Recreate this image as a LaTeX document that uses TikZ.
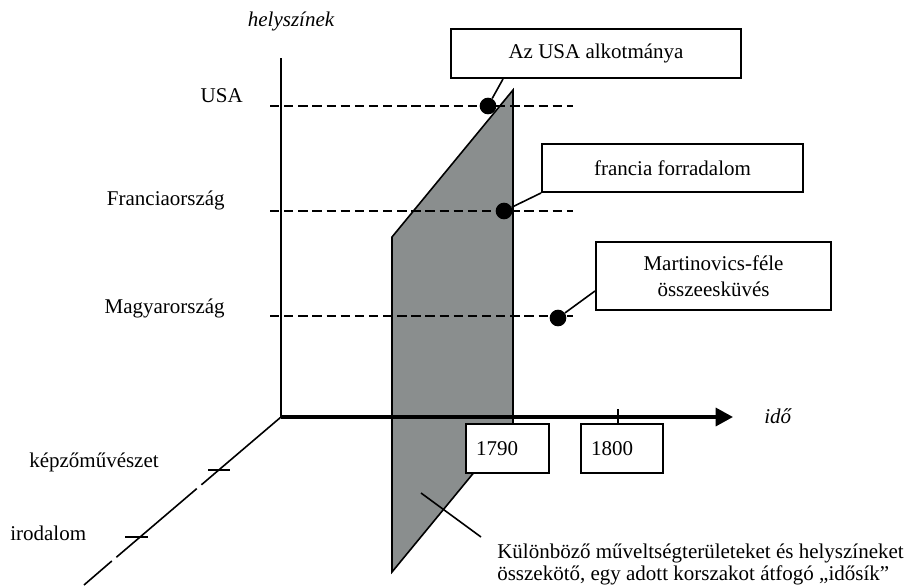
\documentclass[tikz,border=0pt]{standalone}
\usepackage{fontspec}
\setmainfont{Liberation Serif}
\usetikzlibrary{arrows.meta}
\definecolor{planegray}{RGB}{138,142,142}
\begin{document}
\begin{tikzpicture}[x=0.75pt,y=-0.75pt,
  font=\fontsize{15.75pt}{16.5pt}\selectfont,
  every node/.style={inner sep=0pt},
  axisline/.style={line width=1.6pt},
  timeaxis/.style={line width=2.5pt, -{Triangle[length=13pt,width=13.5pt]}},
  levelline/.style={line width=2.2pt, dash pattern=on 7pt off 3.6pt},
  labelbox/.style={draw, line width=1.5pt, fill=white, align=center},
  yearbox/.style={draw, line width=1.5pt, fill=white, align=left,
    text width=47.25pt, inner xsep=7.5pt, minimum height=36.75pt},
  eventdot/.style={circle, fill=black, minimum size=12.5pt},
  pointer/.style={line width=1.2pt},
  plane/.style={fill=planegray, draw=black, line width=1.2pt},
  tickmark/.style={line width=1.2pt},
]
\useasboundingbox (0,0) rectangle (913,585);

% the time plane (idősík)
\draw[plane] (392,237) -- (513,90) -- (513,425) -- (392,572) -- cycle;

% axes
\coordinate (origin) at (281,417);
\coordinate (vtop) at (281,58);
\coordinate (ttip) at (733,417);
\draw[axisline] (origin) -- (vtop);

% depth axis (broken line) with ticks
\coordinate (d1) at (201.4,484.8);
\coordinate (d2) at (196.8,488.6);
\coordinate (d3) at (116.4,557.2);
\coordinate (d4) at (111.8,561.0);
\coordinate (dend) at (84,585);
\draw[tickmark] (origin) -- (d1);
\draw[tickmark] (d2) -- (d3);
\draw[tickmark] (d4) -- (dend);
\coordinate (k1) at (208,470); \coordinate (k2) at (230,470);
\coordinate (i1) at (125,537); \coordinate (i2) at (148,537);
\draw[tickmark] (k1) -- (k2);
\draw[tickmark] (i1) -- (i2);

% place levels
\coordinate (lu1) at (270,106); \coordinate (lu2) at (573,106);
\coordinate (lf1) at (270,211); \coordinate (lf2) at (573,211);
\coordinate (lm1) at (270,316); \coordinate (lm2) at (573,316);
\draw[levelline] (lu1) -- (lu2);
\draw[levelline] (lf1) -- (lf2);
\draw[levelline] (lm1) -- (lm2);

% time axis
\draw[timeaxis] (origin) -- (ttip);
\coordinate (t1800a) at (618,409);
\coordinate (t1800b) at (618,424);
\draw[tickmark] (t1800a) -- (t1800b);

% events
\node[eventdot] (dusa) at (488,106) {};
\node[eventdot] (dfr) at (504,211) {};
\node[eventdot] (dhu) at (558,318) {};

% event boxes
\node[labelbox, minimum width=217.5pt, minimum height=36.75pt] (busa) at (596,53.5) {Az USA alkotmánya};
\node[labelbox, minimum width=195.75pt, minimum height=36pt] (bfr) at (672.5,168) {francia forradalom};
\node[labelbox, minimum width=176.25pt, minimum height=51pt,
  font=\fontsize{15.75pt}{19.5pt}\selectfont] (bhu) at (713.5,276) {Martinovics-féle\\összeesküvés};

\draw[pointer] ([xshift=39.75pt]busa.south west) -- (dusa);
\draw[pointer] (bfr.south west) -- (dfr);
\draw[pointer] ([yshift=15pt]bhu.south west) -- (dhu);

% year boxes
\node[yearbox] (y1790) at (507.5,448.5) {1790};
\node[yearbox, text width=46.5pt] (y1800) at (622,448.5) {1800};

% axis and level labels
\node[anchor=base, font=\fontsize{15.75pt}{16.5pt}\selectfont\itshape] (lhely) at (291,27) {helyszínek};
\node[anchor=base west, font=\fontsize{15.75pt}{16.5pt}\selectfont\itshape] (lido) at (764,423) {idő};
\node[anchor=base east] (lusa) at (243,103) {USA};
\node[anchor=base east] (lfr) at (225,205) {Franciaország};
\node[anchor=base east] (lhu) at (225,313) {Magyarország};
\node[anchor=base west] (lkep) at (29,467) {képzőművészet};
\node[anchor=base west] (lirod) at (10,540) {irodalom};

% plane caption
\node[anchor=north west, align=left] (cap) at (497,544)
  {Különböző műveltségterületeket és helyszíneket\\összekötő, egy adott korszakot átfogó „idősík”};
\coordinate (pin) at (421,493);
\coordinate (pout) at (481,537);
\draw[pointer] (pin) -- (pout);
\end{tikzpicture}
\end{document}
